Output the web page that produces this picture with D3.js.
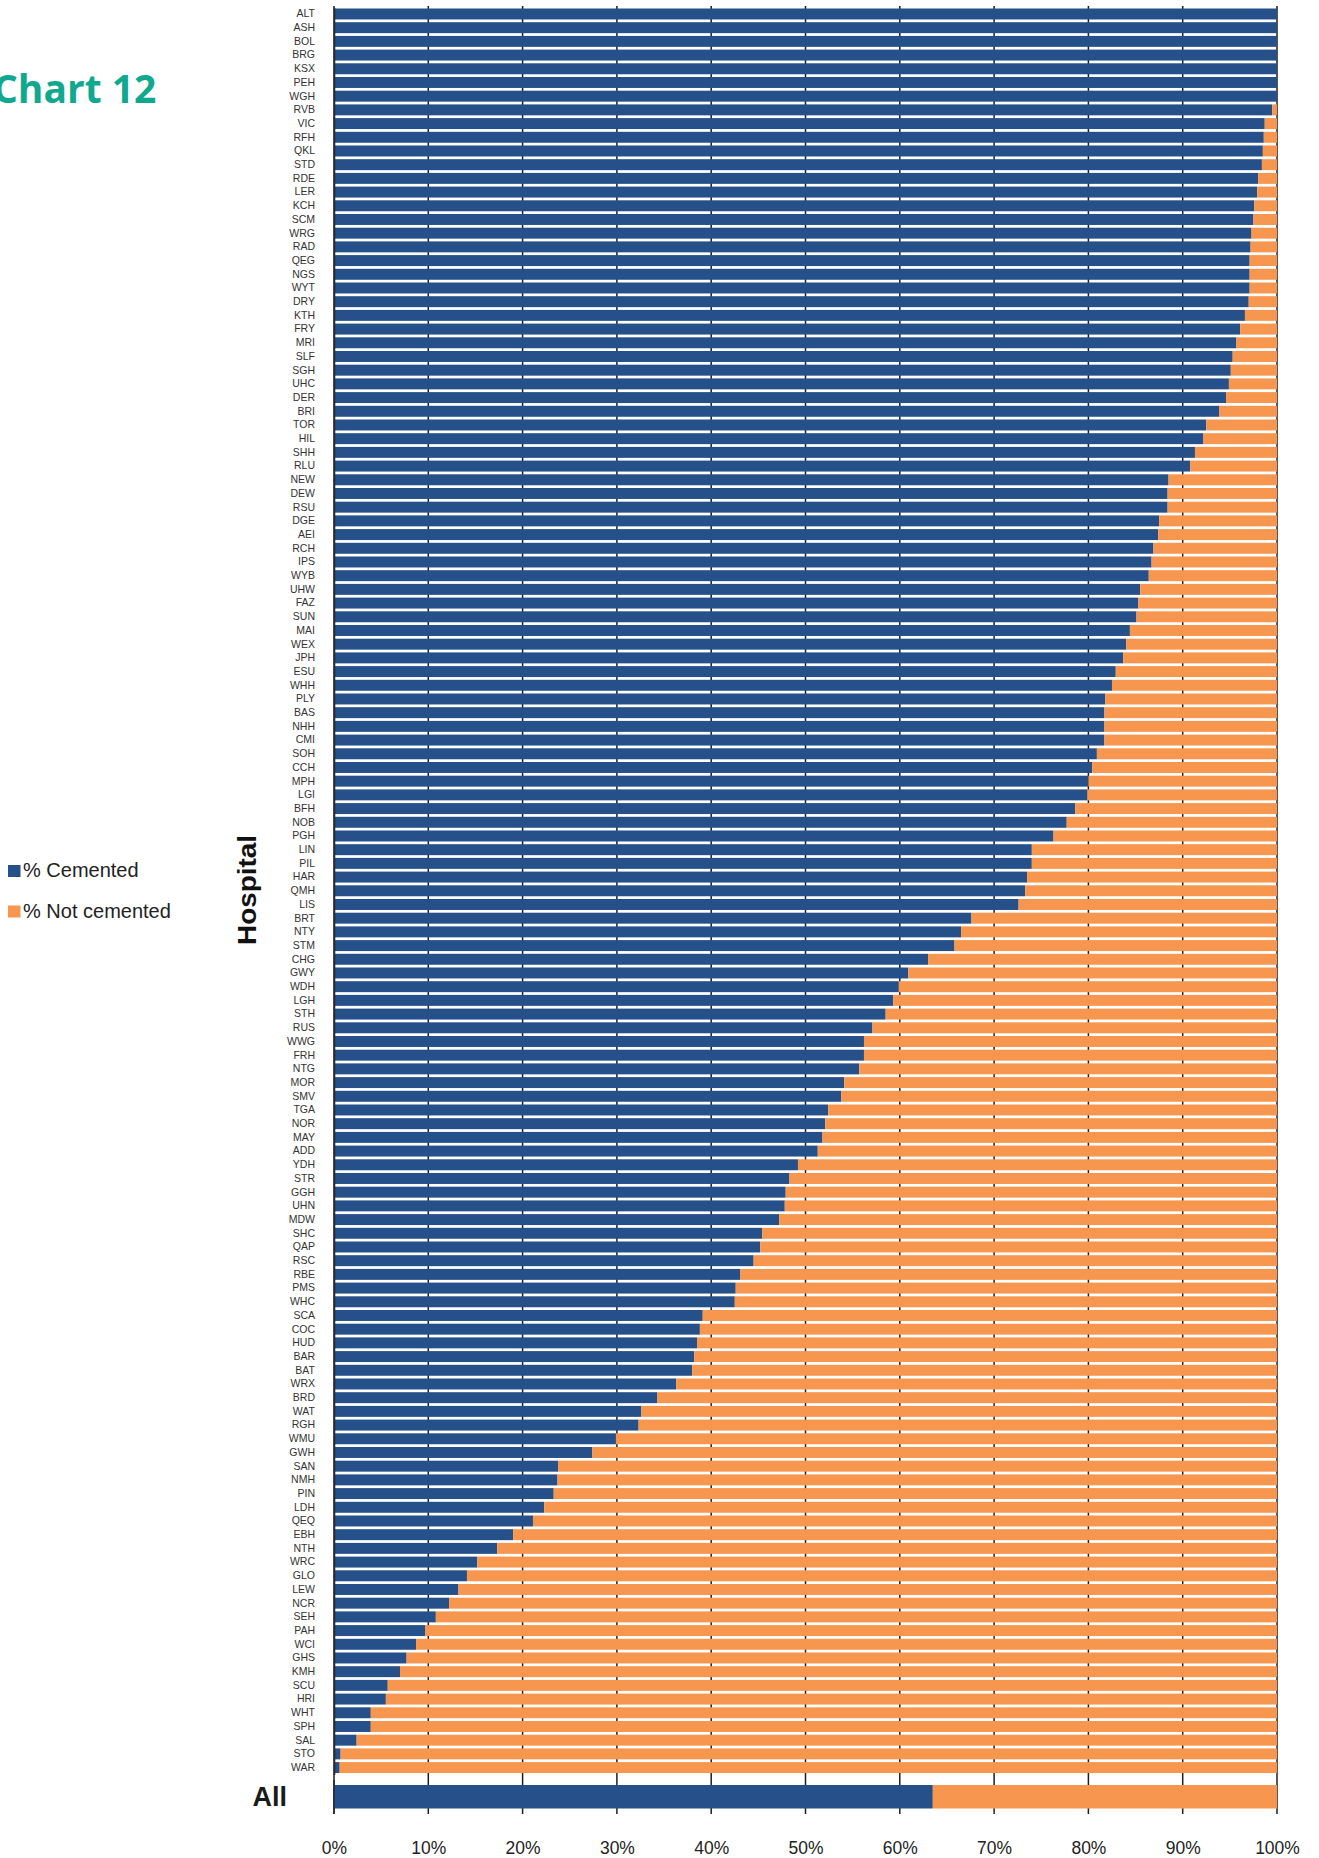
<!DOCTYPE html>
<html>
<head>
<meta charset="utf-8">
<script src="https://cdn.jsdelivr.net/npm/d3@7"></script>
<style>
  html, body { margin: 0; padding: 0; background: #fff; }
  svg { display: block; }
</style>
</head>
<body>
<svg id="chart" width="1319" height="1858"></svg>
<script>
// ---------- DATA ----------
const hospitals = [
  "ALT","ASH","BOL","BRG","KSX","PEH","WGH","RVB","VIC","RFH",
  "QKL","STD","RDE","LER","KCH","SCM","WRG","RAD","QEG","NGS",
  "WYT","DRY","KTH","FRY","MRI","SLF","SGH","UHC","DER","BRI",
  "TOR","HIL","SHH","RLU","NEW","DEW","RSU","DGE","AEI","RCH",
  "IPS","WYB","UHW","FAZ","SUN","MAI","WEX","JPH","ESU","WHH",
  "PLY","BAS","NHH","CMI","SOH","CCH","MPH","LGI","BFH","NOB",
  "PGH","LIN","PIL","HAR","QMH","LIS","BRT","NTY","STM","CHG",
  "GWY","WDH","LGH","STH","RUS","WWG","FRH","NTG","MOR","SMV",
  "TGA","NOR","MAY","ADD","YDH","STR","GGH","UHN","MDW","SHC",
  "QAP","RSC","RBE","PMS","WHC","SCA","COC","HUD","BAR","BAT",
  "WRX","BRD","WAT","RGH","WMU","GWH","SAN","NMH","PIN","LDH",
  "QEQ","EBH","NTH","WRC","GLO","LEW","NCR","SEH","PAH","WCI",
  "GHS","KMH","SCU","HRI","WHT","SPH","SAL","STO","WAR"
];

const pctCemented = [
  100,100,100,100,100,100,100,99.5,98.7,98.6,
  98.5,98.4,98.0,97.9,97.6,97.5,97.3,97.2,97.1,97.1,
  97.1,97.0,96.6,96.1,95.7,95.3,95.1,94.9,94.6,93.9,
  92.5,92.2,91.3,90.8,88.5,88.4,88.4,87.5,87.4,86.9,
  86.7,86.4,85.5,85.3,85.1,84.4,84.0,83.7,82.9,82.5,
  81.8,81.7,81.7,81.7,80.9,80.4,80.0,79.9,78.6,77.7,
  76.3,74.0,74.0,73.5,73.3,72.6,67.6,66.5,65.8,63.0,
  60.9,59.9,59.3,58.5,57.1,56.2,56.2,55.7,54.1,53.8,
  52.4,52.1,51.8,51.3,49.2,48.3,47.9,47.8,47.2,45.4,
  45.2,44.5,43.1,42.6,42.5,39.1,38.8,38.5,38.2,38.0,
  36.3,34.3,32.6,32.3,29.9,27.4,23.8,23.7,23.3,22.3,
  21.1,19.0,17.3,15.2,14.1,13.2,12.2,10.8,9.7,8.7,
  7.7,7.0,5.7,5.5,3.9,3.9,2.4,0.7,0.6
];

const pctNotCemented = [
  0,0,0,0,0,0,0,0.5,1.3,1.4,
  1.5,1.6,2.0,2.1,2.4,2.5,2.7,2.8,2.9,2.9,
  2.9,3.0,3.4,3.9,4.3,4.7,4.9,5.1,5.4,6.1,
  7.5,7.8,8.7,9.2,11.5,11.6,11.6,12.5,12.6,13.1,
  13.3,13.6,14.5,14.7,14.9,15.6,16.0,16.3,17.1,17.5,
  18.2,18.3,18.3,18.3,19.1,19.6,20.0,20.1,21.4,22.3,
  23.7,26.0,26.0,26.5,26.7,27.4,32.4,33.5,34.2,37.0,
  39.1,40.1,40.7,41.5,42.9,43.8,43.8,44.3,45.9,46.2,
  47.6,47.9,48.2,48.7,50.8,51.7,52.1,52.2,52.8,54.6,
  54.8,55.5,56.9,57.4,57.5,60.9,61.2,61.5,61.8,62.0,
  63.7,65.7,67.4,67.7,70.1,72.6,76.2,76.3,76.7,77.7,
  78.9,81.0,82.7,84.8,85.9,86.8,87.8,89.2,90.3,91.3,
  92.3,93.0,94.3,94.5,96.1,96.1,97.6,99.3,99.4
];

const allLabel = ["All"];
const allCemented = [63.5];
const allNotCemented = [36.5];

const seriesNames = ["% Cemented", "% Not cemented"];
const seriesColors = ["#26508a", "#f7964f"];
const tickValues = [0,10,20,30,40,50,60,70,80,90,100];
const tickLabels = ["0%","10%","20%","30%","40%","50%","60%","70%","80%","90%","100%"];
const titleText = "Chart 12";
const yAxisTitle = "Hospital";

// ---------- BUILD ----------
const keys = ["c","n"];
const rows = hospitals.map((h,i) => ({name:h, c:pctCemented[i], n:pctNotCemented[i]}));
const allRows = allLabel.map((h,i) => ({name:h, c:allCemented[i], n:allNotCemented[i]}));
const stack = d3.stack().keys(keys);
const stacked = stack(rows);
const stackedAll = stack(allRows);

const svg = d3.select("#chart");
const x = d3.scaleLinear().domain([0,100]).range([334,1277]);
const step = 13.7;
const y0 = 7.13;
const y = d3.scaleBand().domain(hospitals)
  .range([y0, y0 + hospitals.length*step]).paddingInner(0.2).paddingOuter(0.1);
const yAll = d3.scaleBand().domain(allLabel).range([1785,1808.5]);

// gridlines (dark, visible between bars)
svg.append("g").selectAll("line").data(tickValues).join("line")
  .attr("x1", d => x(d)).attr("x2", d => x(d))
  .attr("y1", 6).attr("y2", 1814)
  .attr("stroke", "#1e1e1e").attr("stroke-width", 1.5);

// hospital bars
svg.append("g").selectAll("g").data(stacked).join("g")
  .attr("fill", (d,i) => seriesColors[i])
  .selectAll("rect").data(d => d).join("rect")
  .attr("x", d => x(d[0]))
  .attr("width", d => Math.max(0, x(d[1]) - x(d[0])))
  .attr("y", d => y(d.data.name))
  .attr("height", y.bandwidth());

// All bar
svg.append("g").selectAll("g").data(stackedAll).join("g")
  .attr("fill", (d,i) => seriesColors[i])
  .selectAll("rect").data(d => d).join("rect")
  .attr("x", d => x(d[0]))
  .attr("width", d => Math.max(0, x(d[1]) - x(d[0])))
  .attr("y", d => yAll(d.data.name))
  .attr("height", yAll.bandwidth());

// left axis (hospital labels)
const ay = svg.append("g").attr("transform", `translate(${x(0)},0)`)
  .call(d3.axisLeft(y).tickSize(0).tickSizeOuter(0).tickPadding(19));
ay.select(".domain").attr("stroke", "#2a2a2a").attr("stroke-width", 1.6);
ay.selectAll("text").attr("font-family", "'Liberation Sans', Arial, sans-serif")
  .attr("font-size", "10.5px").attr("fill", "#333");

// All axis
const aAll = svg.append("g").attr("transform", `translate(${x(0)},0)`)
  .call(d3.axisLeft(yAll).tickSize(0).tickSizeOuter(0).tickPadding(47));
aAll.select(".domain").remove();
aAll.selectAll("text").attr("font-family", "'Liberation Sans', Arial, sans-serif")
  .attr("font-size", "27px").attr("font-weight", "bold").attr("fill", "#1a1a1a")
  .attr("dy", "0.36em");
svg.append("line").attr("x1", x(0)).attr("x2", x(0)).attr("y1", 1780).attr("y2", 1814)
  .attr("stroke", "#2a2a2a").attr("stroke-width", 1.6);

// bottom axis
const ax = svg.append("g").attr("transform", "translate(0,1813)")
  .call(d3.axisBottom(x).tickValues(tickValues).tickFormat((d,i) => tickLabels[i])
    .tickSize(0).tickPadding(28));
ax.select(".domain").remove();
ax.selectAll("text").attr("font-family", "'Liberation Sans', Arial, sans-serif")
  .attr("font-size", "19px").attr("fill", "#222")
  .attr("transform", "scale(0.92,1)");

// y axis title
svg.append("text")
  .attr("transform", "translate(256,890) rotate(-90)")
  .attr("text-anchor", "middle")
  .attr("font-family", "'Liberation Sans', Arial, sans-serif")
  .attr("font-size", "25px").attr("font-weight", "bold").attr("fill", "#111")
  .attr("textLength", 110).attr("lengthAdjust", "spacingAndGlyphs")
  .text(yAxisTitle);

// title
svg.append("text").attr("x", -7).attr("y", 102.5)
  .attr("font-family", "'Open Sans', sans-serif").attr("font-weight", 700)
  .attr("font-size", "39px").attr("fill", "#10a88e")
  .text(titleText);

// legend
const leg = svg.append("g");
seriesNames.forEach((s,i) => {
  const gy = 865 + i*40.5;
  leg.append("rect").attr("x", 8).attr("y", gy).attr("width", 12.5).attr("height", 12)
    .attr("fill", seriesColors[i]);
  leg.append("text").attr("x", 23).attr("y", gy + 12)
    .attr("font-family", "'Liberation Sans', Arial, sans-serif")
    .attr("font-size", "20px").attr("fill", "#222").text(s);
});
</script>
</body>
</html>
